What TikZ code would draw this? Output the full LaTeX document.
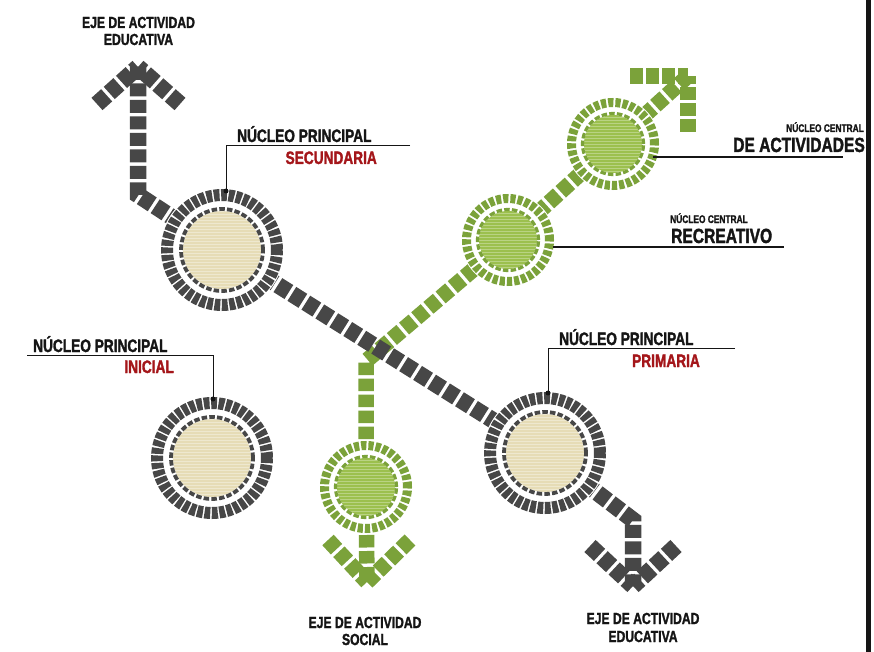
\documentclass[tikz,border=0pt]{standalone}
\usepackage{fontspec}
\setmainfont[FakeStretch=0.76,BoldFeatures={FakeBold=1.6}]{Liberation Sans}
\usetikzlibrary{calc}
\definecolor{dk}{HTML}{474747}
\definecolor{gr}{HTML}{7BA23A}
\definecolor{grl}{HTML}{9CC04E}
\definecolor{beige}{HTML}{E6DCB6}
\definecolor{rd}{HTML}{A4161A}
\definecolor{ink}{HTML}{151515}
\newcommand{\darkhub}[1]{%
  \fill[white] (#1) circle[radius=62pt];
  \fill[beige] (#1) circle[radius=39pt];
  \begin{scope}
    \clip (#1) circle[radius=39pt];
    \foreach \k in {-13,...,13} \draw[white,opacity=0.35,line width=0.8pt] ($(#1)+(-40,\k*3)$) -- ++(80,0);
  \end{scope}
  \draw[dk,line width=3.8pt,dash pattern=on 5.5pt off 2.2pt] (#1) circle[radius=41pt];
  \draw[dk,line width=12pt,dash pattern=on 5.8pt off 1.6pt] (#1) circle[radius=55pt];
}
\newcommand{\greenhub}[1]{%
  \fill[white] (#1) circle[radius=47pt];
  \fill[grl] (#1) circle[radius=29pt];
  \begin{scope}
    \clip (#1) circle[radius=29pt];
    \foreach \k in {-10,...,10} \draw[white,opacity=0.3,line width=0.8pt] ($(#1)+(-30,\k*3)$) -- ++(60,0);
  \end{scope}
  \draw[gr,line width=3.2pt,dash pattern=on 5.5pt off 2.2pt] (#1) circle[radius=30.5pt];
  \draw[gr,line width=9pt,dash pattern=on 5.2pt off 2pt] (#1) circle[radius=41.5pt];
}
\begin{document}
\begin{tikzpicture}[x=1pt,y=-1pt,
  dkpath/.style={draw=dk,line width=16.5pt,dash pattern=on 13pt off 3.5pt},
  grpath/.style={draw=gr,line width=15.5pt,dash pattern=on 12.5pt off 3.5pt},
  big/.style={font=\bfseries\fontsize{18}{20}\selectfont,inner sep=0pt,text=ink},
  red/.style={font=\bfseries\fontsize{18}{20}\selectfont,inner sep=0pt,text=rd},
  eje/.style={font=\bfseries\fontsize{16}{17}\selectfont,inner sep=0pt,text=ink},
  small/.style={font=\bfseries\fontsize{11}{12}\selectfont,inner sep=0pt,text=ink},
  huge/.style={font=\bfseries\fontsize{20.5}{22}\selectfont,inner sep=0pt,text=ink},
  leader/.style={draw=ink,line width=1pt},
  bar/.style={draw=ink,line width=2.6pt}]
\useasboundingbox (0,0) rectangle (874,652);
% hub positions
\coordinate (sec) at (222,250);
\coordinate (ini) at (212,458);
\coordinate (pri) at (545,453);
\coordinate (soc) at (366,487);
\coordinate (rec) at (508,240);
\coordinate (act) at (613,144);
% path points
\coordinate (tlA) at (138,67);
\coordinate (tlL) at (97,104);
\coordinate (tlR) at (180,104);
\coordinate (tlB) at (138,195);
\coordinate (brB) at (633,520);
\coordinate (brA) at (633,586);
\coordinate (brL) at (590,546);
\coordinate (brR) at (676,546);
\coordinate (gBend) at (366,361);
\coordinate (gA) at (367,582);
\coordinate (gL) at (328,540);
\coordinate (gR) at (410,540);
\coordinate (gTip) at (688,76);
\coordinate (gTL) at (630,76);
\coordinate (gTD) at (688,132);
% green connectors
\draw[grpath] (soc) -- (gBend) -- (rec) -- (act) -- (gTip);
\draw[grpath] (gTL) -- (gTip);
\draw[grpath] (gTD) -- (gTip);
\draw[grpath] (soc) -- (gA);
\draw[grpath] (gL) -- (gA);
\draw[grpath] (gR) -- (gA);
% dark connectors
\draw[dkpath] (tlA) -- (tlB) -- (sec);
\draw[dkpath] (tlL) -- (tlA);
\draw[dkpath] (tlR) -- (tlA);
\draw[dkpath] (sec) -- (pri);
\draw[dkpath] (pri) -- (brB) -- (brA);
\draw[dkpath] (brL) -- (brA);
\draw[dkpath] (brR) -- (brA);
% hubs
\darkhub{sec}
\darkhub{ini}
\darkhub{pri}
\greenhub{soc}
\greenhub{rec}
\greenhub{act}
% right border
\fill[ink] (866,0) rectangle (871,652);
% labels: principal
\node[big,anchor=base west] (secT) at (237,142) {NÚCLEO PRINCIPAL};
\node[red,anchor=base east] (secR) at (377,164) {SECUNDARIA};
\coordinate (secE) at (410,146); \coordinate (secC) at (226,146); \coordinate (secD) at (226,191);
\draw[leader] (secE) -- (secC) -- (secD); \fill[ink] (secD) circle[radius=2.5pt];
\node[big,anchor=base west] (iniT) at (33,352) {NÚCLEO PRINCIPAL};
\node[red,anchor=base east] (iniR) at (174,373) {INICIAL};
\coordinate (iniE) at (27,355); \coordinate (iniC) at (213,355); \coordinate (iniD) at (213,399);
\draw[leader] (iniE) -- (iniC) -- (iniD); \fill[ink] (iniD) circle[radius=2.5pt];
\node[big,anchor=base west] (priT) at (559,345) {NÚCLEO PRINCIPAL};
\node[red,anchor=base east] (priR) at (700,367) {PRIMARIA};
\coordinate (priE) at (735,348); \coordinate (priC) at (548,348); \coordinate (priD) at (548,393);
\draw[leader] (priE) -- (priC) -- (priD); \fill[ink] (priD) circle[radius=2.5pt];
% labels: central
\node[small,anchor=base east] (actS) at (864,132) {NÚCLEO CENTRAL};
\node[huge,anchor=base east] (actB) at (865,152) {DE ACTIVIDADES};
\coordinate (actL) at (653,157); \coordinate (actE) at (843,157);
\draw[bar] (actL) -- (actE);
\node[small,anchor=base west] (recS) at (670,223) {NÚCLEO CENTRAL};
\node[huge,anchor=base west] (recB) at (671,243) {RECREATIVO};
\coordinate (recL) at (553,247); \coordinate (recE) at (784,247);
\draw[bar] (recL) -- (recE);
% labels: ejes
\node[eje,anchor=base] (e1a) at (138.5,28) {EJE DE ACTIVIDAD};
\node[eje,anchor=base] (e1b) at (138.5,45) {EDUCATIVA};
\node[eje,anchor=base] (e2a) at (365,628) {EJE DE ACTIVIDAD};
\node[eje,anchor=base] (e2b) at (365,645) {SOCIAL};
\node[eje,anchor=base] (e3a) at (643,624) {EJE DE ACTIVIDAD};
\node[eje,anchor=base] (e3b) at (643,642) {EDUCATIVA};
\end{tikzpicture}
\end{document}
